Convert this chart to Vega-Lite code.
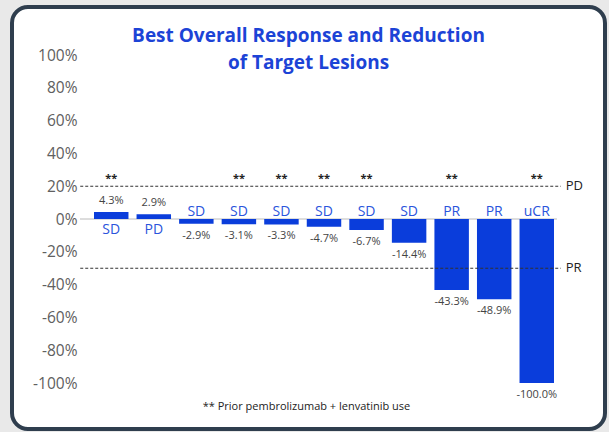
{
  "$schema": "https://vega.github.io/schema/vega-lite/v6.json",
  "width": 593,
  "height": 422,
  "autosize": {"type": "none"},
  "padding": {"left": 12, "top": 7, "right": 4, "bottom": 3},
  "background": "#e9e9e9",
  "view": {"fill": "white", "stroke": "#2f3e4e", "strokeWidth": 4, "cornerRadius": 16},
  "title": {
    "text": ["Best Overall Response and Reduction", "of Target Lesions"],
    "anchor": "middle",
    "frame": "group",
    "font": "Open Sans",
    "fontSize": 19,
    "fontWeight": "bold",
    "color": "#1c43d6",
    "lineHeight": 27,
    "baseline": "top",
    "offset": -66
  },
  "datasets": {
    "patients": [
      {"id": 1, "value": 4.3, "response": "SD", "star": "**"},
      {"id": 2, "value": 2.9, "response": "PD", "star": ""},
      {"id": 3, "value": -2.9, "response": "SD", "star": ""},
      {"id": 4, "value": -3.1, "response": "SD", "star": "**"},
      {"id": 5, "value": -3.3, "response": "SD", "star": "**"},
      {"id": 6, "value": -4.7, "response": "SD", "star": "**"},
      {"id": 7, "value": -6.7, "response": "SD", "star": "**"},
      {"id": 8, "value": -14.4, "response": "SD", "star": ""},
      {"id": 9, "value": -43.3, "response": "PR", "star": "**"},
      {"id": 10, "value": -48.9, "response": "PR", "star": ""},
      {"id": 11, "value": -100.0, "response": "uCR", "star": "**"}
    ],
    "thresholds": [
      {"threshold": 20, "label": "PD"},
      {"threshold": -30, "label": "PR"}
    ]
  },
  "encoding": {
    "x": {
      "field": "id",
      "type": "ordinal",
      "scale": {"range": [82, 542], "paddingInner": 0.19, "paddingOuter": 0},
      "axis": {
        "title": "** Prior pembrolizumab + lenvatinib use",
        "labels": false,
        "ticks": false,
        "domain": false,
        "offset": -23,
        "titlePadding": 0,
        "titleX": 294,
        "titleAlign": "center",
        "titleFont": "Open Sans",
        "titleFontSize": 11,
        "titleFontWeight": "normal",
        "titleColor": "#222222",
        "titleBaseline": "middle"
      }
    }
  },
  "layer": [
    {
      "data": {"name": "patients"},
      "mark": {"type": "rule", "color": "#dcdcdc", "strokeWidth": 1, "xOffset": -31, "x2Offset": 20},
      "encoding": {
        "x": {"datum": 1, "type": "ordinal"},
        "x2": {"datum": 11},
        "y": {"datum": 0, "type": "quantitative"}
      }
    },
    {
      "data": {"name": "patients"},
      "mark": {"type": "bar", "color": "#0a3ddb"},
      "encoding": {
        "y": {
          "field": "value",
          "type": "quantitative",
          "scale": {"domain": [-128, 129.3], "nice": false, "zero": false},
          "axis": {
            "title": null,
            "values": [-100, -80, -60, -40, -20, 0, 20, 40, 60, 80, 100],
            "labelExpr": "replace(format(datum.value, 'd'), '\u2212', '-') + '%'",
            "grid": false,
            "ticks": false,
            "domain": false,
            "offset": -67,
            "labelPadding": 2,
            "labelFont": "Open Sans",
            "labelFontSize": 15.5,
            "labelColor": "#606060"
          }
        }
      }
    },
    {
      "data": {"name": "patients"},
      "transform": [{"filter": "datum.value >= 0"}],
      "mark": {"type": "text", "font": "Open Sans", "fontSize": 11, "color": "#444444", "baseline": "bottom", "dy": -6},
      "encoding": {
        "y": {"field": "value", "type": "quantitative"},
        "text": {"value": {"expr": "replace(format(datum.value, '.1f'), '\u2212', '-') + '%'"}}
      }
    },
    {
      "data": {"name": "patients"},
      "transform": [{"filter": "datum.value < 0"}],
      "mark": {"type": "text", "font": "Open Sans", "fontSize": 11, "color": "#444444", "baseline": "top", "dy": 6},
      "encoding": {
        "y": {"field": "value", "type": "quantitative"},
        "text": {"value": {"expr": "replace(format(datum.value, '.1f'), '\u2212', '-') + '%'"}}
      }
    },
    {
      "data": {"name": "patients"},
      "transform": [{"filter": "datum.value >= 0"}],
      "mark": {"type": "text", "font": "Open Sans", "fontSize": 14, "color": "#2a54dc", "baseline": "alphabetic", "dy": 15},
      "encoding": {
        "y": {"datum": 0, "type": "quantitative"},
        "text": {"field": "response"}
      }
    },
    {
      "data": {"name": "patients"},
      "transform": [{"filter": "datum.value < 0"}],
      "mark": {"type": "text", "font": "Open Sans", "fontSize": 14, "color": "#2a54dc", "baseline": "alphabetic", "dy": -3},
      "encoding": {
        "y": {"datum": 0, "type": "quantitative"},
        "text": {"field": "response"}
      }
    },
    {
      "data": {"name": "patients"},
      "mark": {"type": "text", "font": "Open Sans", "fontSize": 11, "fontWeight": "bold", "color": "#222222", "baseline": "alphabetic", "dy": -4},
      "encoding": {
        "y": {"datum": 20, "type": "quantitative"},
        "text": {"field": "star"}
      }
    },
    {
      "data": {"name": "thresholds"},
      "mark": {"type": "rule", "color": "#333333", "strokeWidth": 1.2, "strokeDash": [3, 2], "xOffset": -31, "x2Offset": 24},
      "encoding": {
        "x": {"datum": 1, "type": "ordinal"},
        "x2": {"datum": 11},
        "y": {"field": "threshold", "type": "quantitative"}
      }
    },
    {
      "data": {"name": "thresholds"},
      "mark": {"type": "text", "font": "Open Sans", "fontSize": 13, "color": "#222222", "align": "left", "baseline": "middle", "xOffset": 29},
      "encoding": {
        "x": {"datum": 11, "type": "ordinal"},
        "y": {"field": "threshold", "type": "quantitative"},
        "text": {"field": "label"}
      }
    }
  ]
}
